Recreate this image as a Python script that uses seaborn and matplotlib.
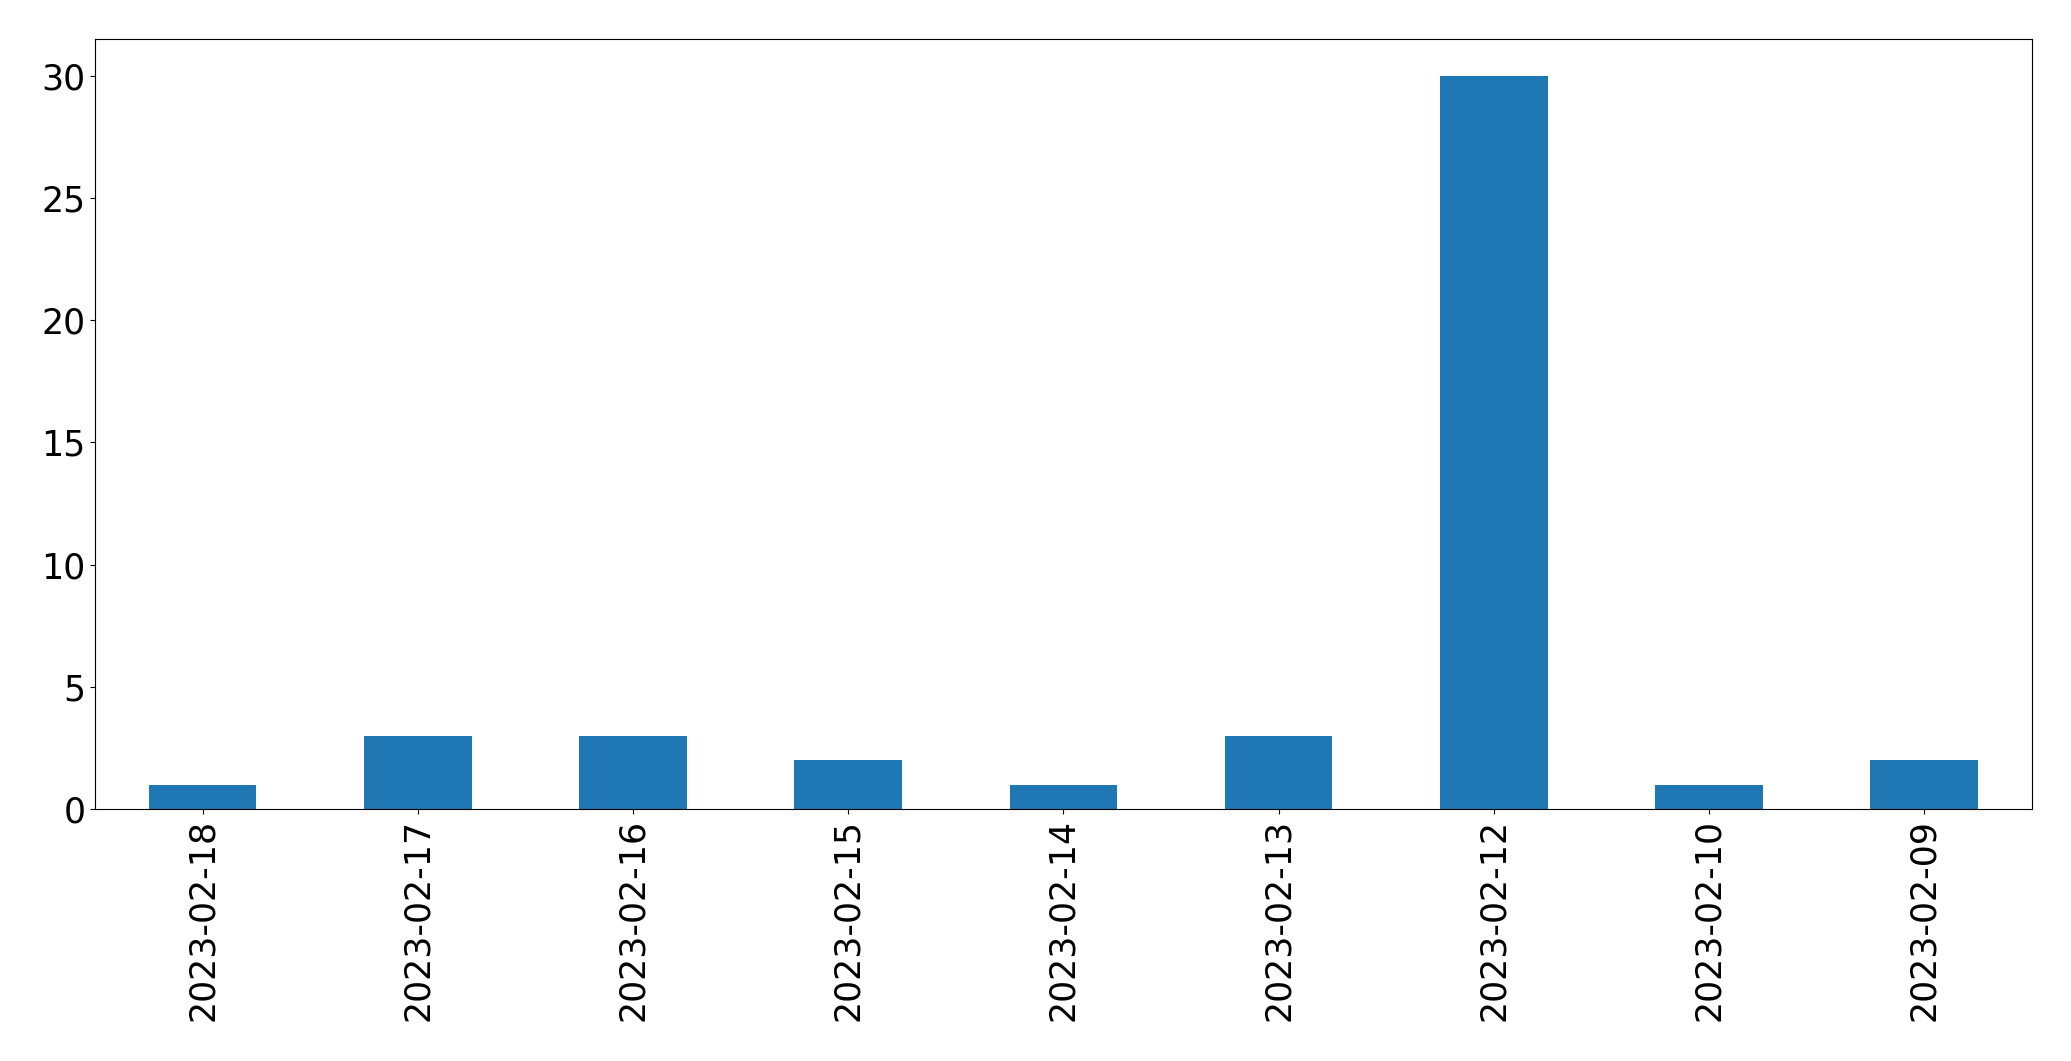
import numpy as np
import pandas as pd
import seaborn as sns
import matplotlib.pyplot as plt

# counts per day
dates = ['2023-02-18', '2023-02-17', '2023-02-16', '2023-02-15', '2023-02-14',
         '2023-02-13', '2023-02-12', '2023-02-10', '2023-02-09']
counts = [1, 3, 3, 2, 1, 3, 30, 1, 2]

df = pd.DataFrame({'date': dates, 'count': counts})

fig, ax = plt.subplots(figsize=(20.71, 10.61), dpi=100)
fig.subplots_adjust(left=0.0459, right=0.981, top=0.9632, bottom=0.2375)

sns.barplot(data=df, x='date', y='count', color='#1f77b4', saturation=1,
            width=0.5, ax=ax)

ax.set_xlim(-0.5, len(dates) - 0.5)
ax.set_ylim(0, max(counts) * 1.05)
ax.set_xlabel('')
ax.set_ylabel('')
ax.tick_params(axis='both', labelsize=25)
ax.tick_params(axis='x', labelrotation=90)

fig.savefig('out.png', dpi=100)
